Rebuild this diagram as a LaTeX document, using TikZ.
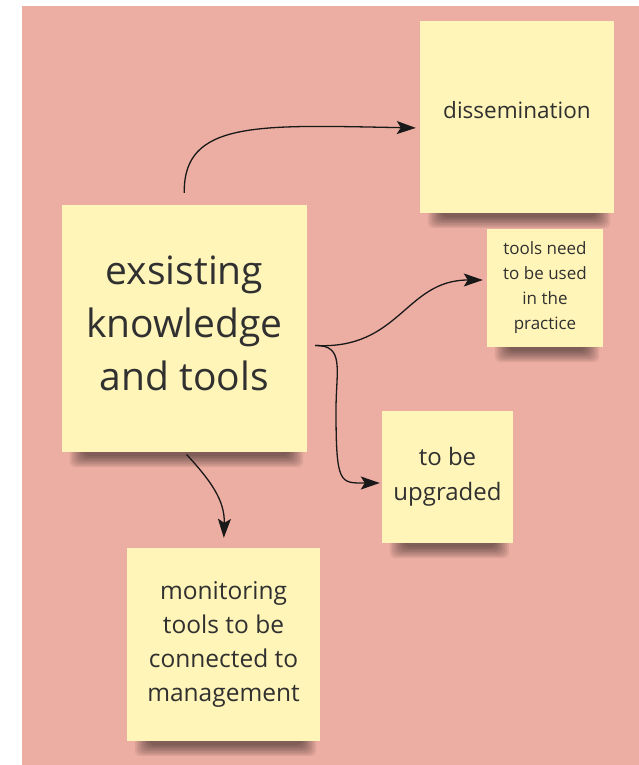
\documentclass[tikz,border=0pt]{standalone}
\usepackage{fontspec}
\setmainfont{Open Sans}
\usetikzlibrary{arrows.meta,backgrounds}

\definecolor{boardpink}{RGB}{236,174,162}
\definecolor{stickyyellow}{RGB}{255,245,184}
\definecolor{inkgray}{RGB}{48,48,48}

\tikzset{
  sticky/.style={fill=stickyyellow, draw=none, align=center, text=inkgray,
    inner sep=0pt},
  flow/.style={draw=black!90, line width=1.3pt,
    -{Stealth[length=19pt,width=13pt,inset=4pt]}}
}

\begin{document}
\begin{tikzpicture}[x=1pt,y=-1pt]

  %board
  \useasboundingbox (0,0) rectangle (639,765);
  \begin{scope}[on background layer]
    \fill[white] (0,0) rectangle (639,765);
    \fill[boardpink] (22,6) rectangle (639,765);
  \end{scope}

  %sticky notes
  \node[sticky, minimum width=245pt, minimum height=247pt, text depth=10pt,
        font=\fontsize{39}{53}\selectfont] (main) at (184.5,328.5)
        {exsisting\\knowledge\\and tools};
  \node[sticky, minimum width=194pt, minimum height=192pt,
        font=\fontsize{22.5}{34}\selectfont] (dissem) at (517,117)
        {\raisebox{14pt}{dissemination}};
  \node[sticky, minimum width=116pt, minimum height=118pt,
        font=\fontsize{17}{25}\selectfont] (practice) at (545,288)
        {tools need\\to be used\\in the\\practice};
  \node[sticky, minimum width=131pt, minimum height=132pt,
        font=\fontsize{24}{35}\selectfont] (upgrade) at (447.5,477)
        {to be\\upgraded};
  \node[sticky, minimum width=193pt, minimum height=193pt,
        font=\fontsize{24.5}{34}\selectfont] (monitor) at (223.5,644.5)
        {monitoring\\tools to be\\connected to\\management};

  %shadows under the notes
  \begin{scope}[on background layer]
    \foreach \n in {main,dissem,practice,upgrade,monitor}
      \foreach \k in {0,...,7}
        \fill[black, opacity=0.07, rounded corners=6pt]
          ([xshift={(8+2*\k)*1pt}, yshift=20pt]\n.south west) rectangle
          ([xshift={(-4-2*\k)*1pt}, yshift={(1.6*\k-15)*1pt}]\n.south east);
  \end{scope}

  %connectors
  \coordinate (split) at ([xshift=8pt,yshift=-17pt]main.east);
  \draw[flow, shorten <=12pt, shorten >=4pt] (main.north)
        .. controls (183,120) and (260,125) .. ([yshift=-11pt]dissem.west);
  \draw[flow, shorten >=4pt] (split)
        .. controls (400,350) and (405,280) .. ([yshift=8pt]practice.west);
  \draw[flow, shorten >=2pt] (split)
        .. controls (345,345) and (336,370) .. (336,410)
        .. controls (336,485) and (340,483) .. ([yshift=-6pt]upgrade.west);
  \draw[flow, shorten <=3pt, shorten >=10pt] (main.south)
        .. controls (210,480) and (225,500) .. (monitor.north);

\end{tikzpicture}
\end{document}
